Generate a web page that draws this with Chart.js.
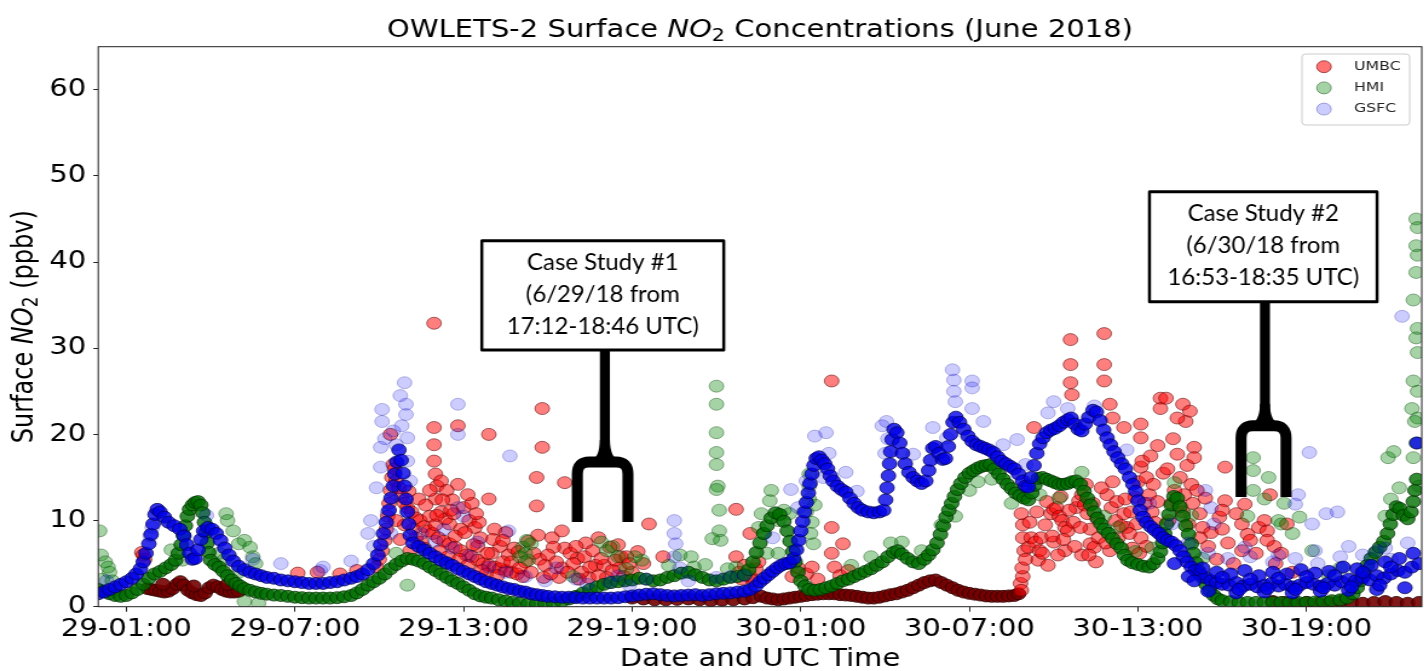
<!DOCTYPE html>
<html>
<head>
<meta charset="utf-8">
<title>OWLETS-2 Surface NO2 Concentrations</title>
<script src="https://cdn.jsdelivr.net/npm/chart.js@4.4.1/dist/chart.umd.min.js"></script>
<style>
  html, body { margin: 0; padding: 0; overflow: hidden; background: #fff; }
  /* the source figure was stretched sideways, so the whole chart is too */
  #wrap { position: relative; width: 1182px; height: 671px; transform: scaleX(1.21); transform-origin: 0 0; }
</style>
</head>
<body>
<div id="wrap"><canvas id="chart"></canvas></div>
<script>
const STRETCH = 1.21
const FONT = "DejaVu Sans"

// hours counted from 29 June 00:00 UTC
const xTickHours = [1, 7, 13, 19, 25, 31, 37, 43]
const xTickLabels = ["29-01:00", "29-07:00", "29-13:00", "29-19:00", "30-01:00", "30-07:00", "30-13:00", "30-19:00"]
const yTicks = [0, 10, 20, 30, 40, 50, 60]

// UMBC: dense low trail (overlapping points) and the looser cloud
const umbcTrail = [
  [1.75,2.1],[1.9,2.0],[2.05,1.9],[2.2,1.8],[2.35,1.7],[2.5,1.8],[2.65,2.1],[2.8,2.6],[2.92,2.9],[3.05,2.5],
  [3.2,1.9],[3.35,1.6],[3.5,1.4],[3.65,1.3],[3.8,1.6],[3.95,2.2],[4.1,2.5],[4.25,2.3],[4.4,2.0],[4.55,1.8],
  [4.7,1.7],[4.85,1.7],[5.0,1.8],[2.3,2.6],[3.4,2.4],[4.6,2.6],
  [19.0,1.0],[19.4,0.9],[19.8,0.8],[20.2,0.8],[20.6,0.85],[21.0,0.9],[21.4,0.8],[21.8,0.7],[22.2,0.75],[22.6,0.8],
  [23.0,0.9],[23.3,1.05],[23.6,1.2],[23.8,1.0],[24.0,0.9],[24.2,0.8],[24.4,0.9],[24.6,1.0],[24.8,1.1],[25.0,1.2],
  [25.2,1.3],[25.4,1.4],[25.6,1.45],[25.8,1.5],[26.0,1.5],[26.2,1.5],[26.4,1.4],[26.6,1.35],[26.8,1.3],[27.0,1.2],
  [27.2,1.1],[27.4,1.0],[27.6,1.0],[27.8,1.1],[28.0,1.25],[28.2,1.4],[28.4,1.5],[28.6,1.7],[28.8,1.9],[29.0,2.2],
  [29.2,2.5],[29.4,2.8],[29.6,3.0],[29.8,3.1],[30.0,2.8],[30.2,2.5],[30.4,2.2],[30.6,1.9],[30.8,1.7],[31.0,1.55],
  [31.2,1.45],[31.4,1.35],[31.6,1.25],[31.8,1.2],[32.0,1.2],[32.2,1.2],[32.4,1.25],[32.6,1.3],[32.75,1.5],
  [41.8,0.6],[42.2,0.5],[42.6,0.4],[43.0,0.5],[43.4,0.4],[43.8,0.5],[44.2,0.6],[44.6,0.5],[45.0,0.4],[45.4,0.5],
  [45.8,0.6],[46.2,0.5],[46.6,0.4],[47.0,0.5]
]
const umbcPoints = [
  [1.55,6.3],[1.6,6.0],[1.65,5.5],[7.1,3.9],[7.8,4.0],[8.6,3.8],[9.2,4.2],
  [9.9,4.6],[10.0,5.5],[10.1,6.5],[10.2,7.7],[10.25,9.0],[10.3,10.5],[10.35,12.0],[10.4,13.5],[10.45,15.0],
  [10.5,16.5],[10.55,16.0],[10.6,14.6],[10.7,13.8],[10.8,12.8],[10.9,12.0],[11.0,11.5],[11.15,11.0],[11.3,10.3],
  [11.45,10.0],[11.6,9.3],[11.75,8.8],[11.9,8.5],[12.1,8.0],[12.3,7.6],[12.5,7.3],[12.7,6.9],[12.9,6.5],[13.1,6.0],
  [13.3,5.8],[13.5,5.4],[13.7,5.0],[13.9,4.8],[14.1,4.6],[14.3,4.4],[14.5,4.2],[14.7,4.0],[14.9,3.8],[10.4,20.0],
  [11.95,20.8],[11.95,18.8],[11.95,16.9],[12.0,15.4],[12.05,14.0],[12.2,14.6],[12.4,13.5],[12.6,12.4],[12.8,14.2],
  [12.8,21.0],[13.0,11.5],[13.2,10.0],[13.4,9.2],[13.6,8.0],[13.3,12.0],[13.9,20.0],[13.9,12.5],[14.1,9.0],[14.3,7.0],
  [14.6,6.0],[12.2,11.0],[12.5,9.6],[12.0,12.5],[11.8,13.5],[12.9,9.0],[13.5,7.0],[14.0,6.2],[11.4,12.5],[11.2,9.0],
  [10.9,9.5],[11.5,7.5],[12.7,8.2],[13.8,3.8],[14.4,5.2],[14.8,6.8],[11.95,32.9],
  [11.1,6.5],[11.3,8.0],[11.6,6.8],[11.8,10.5],[12.0,9.5],[12.15,6.5],[12.35,10.2],[12.45,5.8],[12.65,10.8],[12.85,5.5],
  [13.05,8.6],[13.15,4.8],[13.35,7.2],[13.55,9.8],[13.65,4.2],[13.85,6.2],[14.05,7.8],[14.2,3.6],[14.5,8.6],[14.7,5.2],
  [14.95,6.4],[15.1,3.5],[15.3,7.6],[15.7,5.5],[15.85,3.4],[16.15,8.0],[16.4,3.4],[16.6,6.8],[17.05,5.6],[17.35,7.4],
  [17.45,3.4],[17.7,4.8],[18.1,3.4],[18.5,7.2],[18.55,4.5],[19.2,6.4],[12.05,10.6],[12.25,12.4],[11.65,11.8],[12.55,11.2],
  [13.15,13.0],[13.45,10.8],[10.6,10.0],[10.75,7.8],[11.05,13.4],
  [15.8,23.0],[15.8,18.5],[15.6,15.0],[15.6,11.7],[15.65,8.3],[16.6,14.4],[16.5,8.8],[17.8,8.0],[16.2,6.9],[16.8,6.2],
  [17.3,5.8],[18.2,6.9],[18.6,5.8],[15.2,5.2],[14.4,7.7],[15.0,4.5],[15.4,4.0],[15.9,4.8],[16.1,3.8],[16.5,4.5],
  [16.9,5.0],[17.2,4.0],[17.5,4.6],[17.8,3.6],[18.0,4.8],[18.3,4.2],[18.7,3.5],[19.0,4.0],[16.0,6.0],[17.0,7.0],
  [17.6,6.5],[18.4,5.4],[15.5,6.2],[16.3,5.2],[16.7,4.0],[17.1,3.2],[17.9,5.6],[18.8,5.8],[19.4,5.0],[19.6,9.6],
  [20.1,5.8],[18.9,5.0],
  [22.7,11.3],[23.2,8.5],[22.7,5.8],[22.8,4.0],[23.0,4.8],[23.2,3.5],[23.4,4.4],[23.5,5.2],[23.3,3.0],[22.9,3.2],
  [24.7,3.5],[24.9,4.5],[25.2,3.8],[25.4,4.6],[25.6,3.2],[26.1,26.2],[26.1,9.2],[26.5,7.3],[26.1,6.2],[26.2,4.6],
  [26.4,3.6],[26.7,4.2],
  [32.82,2.7],[32.85,1.9],[32.9,3.5],[32.88,4.5],
  [32.85,10.8],[32.9,9.5],[32.9,8.0],[32.95,6.5],[33.0,5.5],[33.1,6.9],[33.2,8.0],[33.3,20.8],[33.35,7.5],[33.45,5.4],
  [33.5,6.5],[33.55,8.0],[33.7,9.5],[33.9,10.8],[34.0,11.3],[34.1,11.5],[34.2,10.5],[34.3,10.0],[34.4,9.2],[34.5,8.8],
  [34.6,31.0],[34.6,28.1],[34.6,26.0],[34.65,24.6],[34.7,9.8],[34.8,11.5],[34.9,12.3],[35.0,13.0],[35.1,11.8],[35.2,10.8],
  [35.3,7.3],[35.3,9.0],[35.45,6.9],[35.6,8.0],[35.8,31.7],[35.8,28.1],[35.8,26.2],[35.9,13.0],[36.0,23.5],[36.05,11.5],
  [36.1,21.9],[36.2,10.0],[36.3,8.0],[36.5,10.8],[36.5,20.8],[36.6,9.2],[36.7,8.5],[36.9,12.7],[37.0,14.5],[37.1,16.2],
  [37.15,16.9],[37.1,21.2],[37.1,19.6],[37.3,15.0],[37.4,13.0],[37.1,8.0],[37.5,11.0],[37.7,18.7],[37.8,24.2],[37.8,23.0],
  [37.6,9.8],[37.8,8.5],[34.0,7.5],[34.4,6.5],[33.8,4.8],[35.0,6.0],[36.0,6.5],[36.8,6.8],[37.3,7.0],[35.5,5.2],
  [33.15,9.8],[33.4,11.0],[33.6,6.2],[33.75,12.2],[33.95,8.2],[34.15,6.0],[34.25,12.8],[34.35,7.8],[34.55,11.2],[34.75,7.0],
  [34.95,9.2],[35.15,14.2],[35.25,6.0],[35.4,12.0],[35.55,10.2],[35.7,13.8],[35.85,7.4],[36.1,14.5],[36.25,12.2],[36.4,9.4],
  [36.55,12.5],[36.75,11.0],[36.95,9.6],[37.05,6.2],[37.25,12.0],[37.45,17.5],[37.55,14.2],[37.7,12.2],[37.9,15.5],[38.05,16.0],
  [38.25,19.5],[38.45,11.8],[38.65,13.0],[38.75,16.4],[38.95,12.0],[39.3,9.2],[39.4,12.6],[39.6,8.6],[39.9,10.4],[40.2,7.4],
  [40.5,10.8],[40.9,8.4],[41.3,9.2],[41.85,7.0],[42.1,6.2],
  [38.0,24.2],[38.6,23.5],[38.7,21.5],[38.85,22.7],[38.4,21.9],[39.0,18.5],[39.0,17.3],[38.4,17.7],[38.5,15.0],[38.9,14.2],
  [39.1,13.5],[38.3,13.5],[38.8,9.6],[39.2,10.8],[39.2,8.0],[40.1,16.2],[40.1,12.3],[40.0,11.2],[40.0,9.0],[40.8,11.9],
  [40.7,9.6],[41.0,7.7],[41.5,10.0],[41.6,8.8],[41.6,7.7],[41.7,13.0],[42.3,9.6],[41.2,6.2],[40.7,6.5],[39.5,7.0],
  [39.8,5.5],[40.4,5.0],[41.9,5.0],[42.5,4.0],[38.2,12.0],[38.6,11.0],[38.1,10.0]
]

// HMI
const hmiTrail = [
  [0.0,2.0],[0.2,1.8],[0.4,1.5],[0.6,1.3],[0.8,1.2],[1.0,1.3],[1.2,1.6],[1.4,2.0],[1.6,2.6],[1.8,3.3],
  [2.0,3.8],[2.2,4.1],[2.4,4.5],[2.6,4.9],[2.75,5.4],[2.85,6.2],[2.95,7.2],[3.03,8.3],[3.1,9.4],[3.17,10.5],
  [3.25,11.3],[3.35,11.8],[3.45,12.1],[3.55,12.2],[3.65,11.8],[3.72,10.9],[3.78,9.8],[3.83,8.6],[3.88,7.4],[3.93,6.3],
  [4.0,5.4],[4.15,4.9],[4.3,4.6],[4.45,4.1],[4.6,3.6],[4.75,3.1],[4.9,2.7],[5.05,2.4],[5.2,2.1],[5.4,1.9],
  [5.6,1.7],[5.8,1.55],[6.0,1.45],[6.25,1.35],[6.5,1.3],[6.75,1.2],[7.0,1.1],[7.25,1.05],[7.5,1.0],[7.75,1.0],
  [8.0,1.0],[8.25,1.0],[8.5,1.05],[8.75,1.15],[9.0,1.3],[9.2,1.6],[9.4,2.0],[9.6,2.5],[9.8,2.9],[10.0,3.3],
  [10.2,3.8],[10.4,4.4],[10.6,4.9],[10.8,5.3],[11.0,5.6],[11.2,5.5],[11.4,5.3],[11.6,5.0],[11.8,4.6],[12.0,4.2],
  [12.2,3.8],[12.4,3.4],[12.6,3.0],[12.8,2.7],[13.0,2.3],[13.2,1.9],[13.4,1.5],[13.6,1.25],[13.8,1.1],[14.0,1.0],
  [14.25,0.8],[14.5,0.65],[14.75,0.5],[15.0,0.4],[15.3,0.3],[15.6,0.3],[15.9,0.35],[16.2,0.45],[16.5,0.6],[16.75,0.9],
  [17.0,1.2],[17.25,1.6],[17.5,2.0],[17.75,2.3],[18.0,2.6],[18.25,2.8],[18.5,2.9],[18.75,3.0],[19.0,3.1],[19.25,3.3],
  [19.5,3.2],[19.75,3.0],[20.0,3.1],[20.25,3.4],[20.5,3.6],[20.75,3.9],[21.0,4.0],[21.25,3.7],[21.5,3.4],[21.75,3.1],
  [22.0,3.0],[22.25,3.2],[22.5,3.4],[22.75,3.5],[23.0,3.7],[23.15,4.3],[23.3,5.2],[23.42,6.3],[23.55,7.4],[23.68,8.5],
  [23.8,9.4],[23.95,10.3],[24.1,10.9],[24.25,10.7],[24.4,9.9],[24.52,8.8],[24.62,7.6],[24.72,6.4],[24.8,5.2],[24.9,4.0],
  [25.0,3.0],[25.15,2.4],[25.3,2.0],[25.5,1.9],[25.7,2.0],[25.9,2.2],[26.1,2.4],[26.3,2.7],[26.5,3.0],[26.7,3.2],
  [26.9,3.5],[27.1,3.8],[27.3,4.1],[27.5,4.4],[27.7,4.8],[27.9,5.2],[28.1,5.8],[28.3,6.3],[28.45,6.5],[28.6,6.1],
  [28.8,5.6],[29.0,5.2],[29.2,5.0],[29.4,5.5],[29.55,6.0],[29.7,6.6],[29.85,7.4],[29.97,8.4],[30.07,9.4],[30.17,10.4],
  [30.27,11.2],[30.37,12.0],[30.47,12.8],[30.58,13.6],[30.7,14.3],[30.85,15.0],[31.0,15.5],[31.15,15.8],[31.3,16.1],[31.45,16.3],
  [31.6,16.4],[31.75,16.5],[31.9,16.0],[32.05,15.4],[32.2,14.8],[32.35,14.2],[32.5,13.7],[32.65,13.2],[32.8,12.9],[32.95,12.6],
  [33.1,12.4],[33.22,13.2],[33.33,14.1],[33.45,14.9],[33.6,15.0],[33.75,14.8],[33.9,14.6],[34.05,14.4],[34.2,14.2],[34.35,14.2],
  [34.5,14.3],[34.65,14.5],[34.8,14.6],[34.95,14.2],[35.08,13.4],[35.2,12.6],[35.32,11.8],[35.44,11.0],[35.56,10.3],[35.68,9.6],
  [35.8,9.0],[35.95,8.5],[36.1,7.9],[36.25,7.3],[36.4,6.8],[36.52,6.0],[36.64,5.4],[36.8,5.1],[37.0,4.9],[37.2,4.7],
  [37.4,4.6],[37.55,5.0],[37.7,5.6],[37.8,6.4],[37.88,7.4],[37.95,8.5],[38.02,9.6],[38.1,10.7],[38.18,11.8],[38.28,12.8],
  [38.4,12.6],[38.5,11.6],[38.6,10.5],[38.7,9.4],[38.8,8.4],[38.9,7.3],[38.98,6.2],[39.06,5.1],[39.15,4.2],[39.28,3.4],
  [39.42,2.6],[39.56,1.9],[39.7,1.3],[39.85,0.9],[40.0,0.7],[40.3,0.6],[40.6,0.5],[40.9,0.5],[41.2,0.5],[41.5,0.5],
  [41.8,0.5],[42.1,0.5],[42.4,0.5],[42.7,0.5],[43.0,0.5],[43.3,0.55],[43.6,0.6],[43.9,0.7],[44.2,0.8],[44.45,1.0],
  [44.65,1.5],[44.8,2.2],[44.92,3.0],[45.04,3.9],[45.16,4.8],[45.3,5.6],[45.45,6.3],[45.6,6.9],[45.75,7.6],[45.88,8.5],
  [45.98,9.6],[46.08,10.7],[46.2,11.6],[46.32,11.4],[46.45,10.6],[46.6,10.2],[46.72,11.0],[46.8,12.2],[46.86,13.5],[46.92,14.8]
]
const hmiPoints = [
  [0.05,8.8],[0.1,6.0],[0.25,5.2],[0.4,4.0],[0.15,3.2],[0.5,3.0],[0.35,4.6],
  [4.55,10.8],[4.6,10.0],[4.8,8.8],[5.0,7.3],[5.2,7.7],[5.4,6.9],[5.5,5.8],[5.2,0.6],[5.7,0.4],[5.0,4.0],[4.5,5.5],
  [4.3,6.2],[5.6,5.0],[2.6,6.6],[3.0,5.4],
  [15.1,6.9],[15.2,6.2],[15.3,5.4],[15.0,5.8],[15.4,7.3],[15.25,7.7],[17.9,7.5],[18.1,6.5],[18.3,7.0],[18.5,5.8],
  [16.9,3.5],[11.0,2.5],[12.4,5.0],[11.6,6.6],[10.6,6.2],[18.8,4.4],
  [19.35,5.4],[19.1,5.8],[20.7,6.0],[21.1,5.8],[21.2,4.6],[22.0,25.6],[22.0,23.5],[22.0,20.2],[22.0,17.9],[22.0,16.5],
  [22.05,14.0],[22.0,13.6],[22.1,11.2],[22.1,8.8],[21.85,7.9],[22.15,7.7],[22.7,4.6],[23.5,9.2],[23.95,13.5],[23.9,12.3],
  [23.6,10.8],[23.7,8.5],[24.2,10.0],[24.4,11.2],[24.6,10.8],[23.8,6.2],[24.2,6.2],[24.6,5.0],[25.3,15.4],[25.3,14.0],
  [25.3,12.5],[25.2,11.0],[25.45,7.3],[25.35,8.5],[25.4,9.8],[25.5,11.8],[20.3,4.8],[21.6,4.9],[22.4,4.4],
  [28.6,7.5],[29.3,6.5],[30.0,9.5],[31.3,14.5],[27.5,5.8],[28.2,7.4],[26.8,4.8],
  [30.5,10.5],[31.0,13.5],[31.8,14.8],[32.5,12.0],[33.5,13.0],[34.2,12.6],[35.0,15.6],[35.8,10.5],[36.3,9.2],[36.9,6.4],
  [37.5,6.8],[38.3,14.4],[38.9,10.6],[39.3,5.6],
  [41.1,17.3],[41.1,15.8],[41.1,13.5],[41.65,15.0],[42.0,10.0],[42.1,9.6],[42.5,8.5],[42.2,12.0],[42.75,10.4],[43.2,6.5],
  [41.5,12.5],[40.9,10.5],[44.2,4.5],[43.8,3.6],
  [46.9,45.0],[46.95,44.0],[46.9,41.9],[46.95,40.8],[46.9,38.8],[46.8,35.6],[46.95,32.3],[46.9,31.2],[46.95,29.5],[46.8,26.2],
  [46.95,25.0],[46.75,23.0],[46.95,21.9],[46.85,21.5],[46.8,17.3],[45.9,17.3],[46.1,18.0],[46.3,13.8],[46.9,19.0],[47.0,14.0],
  [45.8,10.5],[46.0,12.5]
]

// GSFC
const gsfcTrail = [
  [0.0,1.5],[0.2,1.7],[0.4,2.0],[0.6,2.3],[0.8,2.6],[1.0,2.9],[1.2,3.3],[1.35,3.8],[1.5,4.4],[1.6,5.2],
  [1.7,6.2],[1.8,7.3],[1.88,8.4],[1.95,9.6],[2.02,10.7],[2.1,11.3],[2.2,11.0],[2.35,10.4],[2.5,9.8],[2.7,9.4],
  [2.9,9.0],[3.05,8.2],[3.15,7.2],[3.25,6.2],[3.35,5.5],[3.45,5.6],[3.55,6.6],[3.65,7.8],[3.75,8.8],[3.9,9.2],
  [4.05,9.0],[4.2,8.5],[4.35,7.7],[4.5,6.8],[4.65,6.0],[4.8,5.3],[5.0,4.7],[5.2,4.3],[5.4,4.0],[5.6,3.8],
  [5.8,3.6],[6.0,3.4],[6.25,3.3],[6.5,3.1],[6.75,3.0],[7.0,2.9],[7.25,2.8],[7.5,2.7],[7.75,2.7],[8.0,2.7],
  [8.25,2.8],[8.5,2.9],[8.75,3.1],[9.0,3.3],[9.2,3.5],[9.4,3.8],[9.6,4.3],[9.8,5.0],[9.95,6.0],[10.05,7.2],
  [10.15,8.5],[10.25,9.8],[10.35,11.2],[10.42,12.6],[10.5,14.0],[10.55,15.4],[10.62,16.8],[10.7,18.2],[10.78,17.0],[10.85,15.5],
  [10.9,14.0],[10.95,12.5],[11.0,11.0],[11.05,9.6],[11.1,8.3],[11.2,7.4],[11.4,7.0],[11.6,6.6],[11.8,6.2],[12.0,5.8],
  [12.2,5.4],[12.4,5.1],[12.6,4.8],[12.8,4.4],[13.0,4.1],[13.2,3.8],[13.4,3.5],[13.6,3.2],[13.8,2.9],[14.0,2.7],
  [14.2,2.5],[14.4,2.3],[14.6,2.1],[14.8,2.0],[15.0,1.8],[15.2,1.7],[15.4,1.5],[15.6,1.4],[15.8,1.3],[16.0,1.2],
  [16.25,1.15],[16.5,1.1],[16.75,1.1],[17.0,1.05],[17.25,1.0],[17.5,1.0],[17.75,1.0],[18.0,1.0],[18.25,1.0],[18.5,1.05],
  [18.75,1.15],[19.0,1.25],[19.25,1.35],[19.5,1.45],[19.75,1.5],[20.0,1.4],[20.25,1.3],[20.5,1.25],[20.75,1.3],[21.0,1.35],
  [21.25,1.4],[21.5,1.3],[21.75,1.4],[22.0,1.5],[22.25,1.55],[22.5,1.6],[22.75,1.7],[23.0,1.8],[23.2,2.0],[23.4,2.4],
  [23.55,2.9],[23.7,3.3],[23.85,3.7],[24.0,4.1],[24.15,4.5],[24.3,4.8],[24.45,5.0],[24.6,5.1],[24.75,5.6],[24.85,6.6],
  [24.93,7.7],[25.0,8.8],[25.07,9.9],[25.13,11.0],[25.2,12.1],[25.27,13.2],[25.33,14.3],[25.4,15.4],[25.47,16.4],[25.55,17.2],
  [25.65,17.4],[25.75,17.0],[25.85,16.6],[25.95,16.0],[26.05,15.2],[26.15,14.6],[26.3,14.0],[26.45,13.6],[26.6,13.3],[26.75,12.6],
  [26.9,12.0],[27.05,11.5],[27.2,11.2],[27.4,11.0],[27.6,10.9],[27.8,11.0],[27.95,11.2],[28.02,12.4],[28.07,13.8],[28.12,15.2],
  [28.16,16.6],[28.2,18.0],[28.25,19.4],[28.32,20.6],[28.42,20.2],[28.52,19.0],[28.62,17.8],[28.72,16.6],[28.85,15.6],[29.0,15.0],
  [29.15,14.6],[29.3,14.3],[29.45,14.6],[29.55,15.8],[29.62,17.0],[29.7,18.4],[29.8,18.6],[29.92,17.8],[30.05,17.1],[30.15,17.2],
  [30.25,18.6],[30.33,20.0],[30.42,21.4],[30.52,22.0],[30.65,21.4],[30.8,20.6],[30.95,19.8],[31.1,19.2],[31.25,18.8],[31.4,18.6],
  [31.55,18.4],[31.7,18.2],[31.85,17.9],[32.0,17.4],[32.15,16.9],[32.3,16.6],[32.45,16.3],[32.6,16.0],[32.75,15.4],[32.9,14.6],
  [33.0,14.0],[33.1,13.9],[33.2,15.0],[33.3,16.4],[33.4,17.8],[33.5,18.9],[33.62,19.6],[33.75,20.2],[33.9,20.5],[34.05,20.7],
  [34.2,21.0],[34.35,21.4],[34.5,21.7],[34.62,21.9],[34.75,21.2],[34.88,20.6],[35.0,20.4],[35.12,21.2],[35.25,22.0],[35.4,22.8],
  [35.52,22.6],[35.65,21.6],[35.78,20.5],[35.9,19.6],[36.02,18.8],[36.15,18.0],[36.28,17.3],[36.42,16.6],[36.55,16.0],[36.7,15.0],
  [36.82,14.2],[36.92,13.4],[37.0,12.3],[37.08,11.2],[37.18,10.4],[37.3,9.8],[37.45,9.3],[37.6,8.9],[37.75,8.5],[37.9,8.0],
  [38.05,7.7],[38.2,7.5],[38.35,7.1],[38.5,6.5],[38.62,5.8],[38.75,5.2],[38.9,4.6],[39.05,4.2],[39.2,3.8],[39.4,3.4],
  [39.6,3.0],[39.8,2.8],[40.0,2.6],[40.25,2.5],[40.5,2.8],[40.75,2.4],[41.0,2.6],[41.25,2.3],[41.5,2.5],[41.75,2.7],
  [42.0,2.4],[42.25,2.6],[42.5,2.3],[42.75,2.5],[43.0,2.8],[43.25,2.6],[43.5,2.4],[43.75,2.7],[44.0,2.5],[44.25,2.9],
  [44.5,3.2],[44.75,3.0],[45.0,3.4],[45.25,3.1],[45.5,3.6],[45.75,3.3],[46.0,3.8],[46.25,4.2],[46.5,4.0],[46.75,4.6],
  [47.0,5.0],
  [38.3,5.0],[38.8,3.5],[39.3,4.5],[39.8,4.0],[40.3,3.8],[40.8,4.2],[41.3,3.6],[41.8,4.0],[42.3,3.8],[42.8,4.3],
  [43.3,3.9],[43.8,4.1],[44.3,4.6],[44.8,4.4],[45.3,4.8],[45.8,5.2],[46.3,5.6],[46.8,6.2],
  [39.0,3.0],[40.0,3.4],[41.0,3.2],[42.0,3.3],[43.0,3.5],[44.0,3.6],[45.0,4.0],[46.0,4.6],
  [39.5,1.8],[40.5,1.6],[41.5,1.7],[42.5,1.6],[43.5,1.8],[44.5,1.9],[45.5,2.0],[46.5,2.2],
  [40.6,2.0],[41.6,2.1],[42.6,2.0],[43.6,2.2],[44.6,2.3],[45.6,2.5],[46.93,19.0]
]
const gsfcPoints = [
  [1.85,8.2],[1.92,9.2],[3.85,10.6],[7.9,4.2],[0.3,3.0],[5.5,5.5],[6.5,5.0],[8.0,4.6],[9.0,5.3],
  [9.6,8.5],[9.7,10.0],[9.9,13.8],[10.05,16.2],[10.05,18.5],[10.1,21.5],[10.1,22.9],[10.5,20.4],[10.6,18.8],[10.9,26.0],
  [10.95,23.5],[10.95,22.3],[11.0,19.6],[11.0,16.9],[11.1,14.6],[10.7,13.8],[10.3,11.0],[10.4,8.5],[9.8,7.0],[10.2,19.5],
  [10.8,21.0],[10.75,24.5],
  [12.8,23.5],[12.8,20.0],[12.8,11.5],[13.0,10.5],[14.65,17.5],[14.6,8.8],[13.5,7.5],[12.3,9.0],
  [11.5,8.5],[12.0,7.6],[12.6,6.8],[13.2,5.9],[13.9,4.6],[14.5,4.0],[15.2,3.5],[15.9,3.0],[17.4,2.6],[18.2,2.8],
  [19.5,3.2],[21.0,3.0],[22.0,3.4],[23.0,3.6],
  [16.3,4.5],[17.0,3.2],[18.5,3.6],[18.9,2.5],
  [20.5,10.0],[20.5,8.5],[20.55,7.3],[20.5,5.8],[20.7,4.5],[22.5,3.5],[24.65,13.6],[25.5,19.8],[25.9,20.2],[26.0,17.8],
  [25.2,14.6],[25.8,15.0],[24.9,11.5],[24.0,8.0],[28.05,21.5],[28.1,19.5],[28.0,17.8],[27.9,21.0],[27.0,13.4],[26.6,15.6],
  [30.4,27.5],[30.45,26.3],[30.45,25.0],[30.5,23.8],[31.1,26.2],[31.1,25.4],[31.1,23.0],[29.7,20.8],[30.2,19.6],[32.7,19.4],
  [34.0,23.8],[34.5,23.0],[35.45,23.3],[31.5,21.5],[29.0,17.7],[33.8,22.5],[32.2,18.8],[33.0,16.5],[36.6,18.2],[37.4,12.0],
  [38.2,9.6],[38.8,7.4],[39.5,6.2],[40.2,5.6],[41.0,5.8],[41.8,5.2],[42.6,5.6],[43.4,5.0],[44.2,5.8],[45.0,6.0],
  [45.8,6.8],[46.6,7.4],
  [43.1,17.9],[42.7,13.0],[42.6,11.9],[43.2,9.6],[43.7,10.8],[46.4,33.7],[39.4,13.5],[39.6,11.5],[39.7,9.6],[40.8,6.9],
  [43.3,6.5],[42.0,6.0],[44.5,7.0],[45.5,6.5],[46.0,5.5],[44.1,11.0]
]

// boxes and brackets marking the two case studies (hours / ppbv)
const caseStudies = [
  { lines: ["Case Study #1", "(6/29/18 from", "17:12-18:46 UTC)"],
    left: 13.65, right: 22.26, top: 42.47, bottom: 29.81, stem: 18.03, legs: [17.05, 18.85], fork: 16.81, legEnd: 9.84 },
  { lines: ["Case Study #2", "(6/30/18 from", "16:53-18:35 UTC)"],
    left: 37.41, right: 45.51, top: 48.17, bottom: 35.39, stem: 41.52, legs: [40.67, 42.27], fork: 20.99, legEnd: 12.74 }
]

const legendItems = [
  { label: "UMBC", fill: "rgba(255,0,0,0.55)", edge: "rgba(110,0,0,0.6)" },
  { label: "HMI", fill: "rgba(0,128,0,0.35)", edge: "rgba(0,70,0,0.45)" },
  { label: "GSFC", fill: "rgba(0,0,255,0.2)", edge: "rgba(0,0,140,0.3)" }
]

const toPoints = (rows) => rows.map(([x, y]) => ({ x, y }))

// draw a label made of plain, italic and subscript pieces
function drawRich(ctx, parts, x, y, size) {
  const fontFor = (p) => `${p.it ? "italic " : ""}${p.sub ? Math.round(size * 0.7) : size}px "${FONT}"`
  let total = 0
  const widths = parts.map((p) => {
    ctx.font = fontFor(p)
    const w = ctx.measureText(p.t).width
    total += w
    return w
  })
  let cx = x - total / 2
  ctx.textAlign = "left"
  ctx.textBaseline = "alphabetic"
  parts.forEach((p, i) => {
    ctx.font = fontFor(p)
    ctx.fillText(p.t, cx, y + (p.sub ? size * 0.2 : 0))
    cx += widths[i]
  })
}

function drawCase(ctx, chart, c) {
  const xs = chart.scales.x
  const ys = chart.scales.y
  const X = (h) => xs.getPixelForValue(h) * STRETCH
  const Y = (v) => ys.getPixelForValue(v)

  ctx.save()
  ctx.scale(1 / STRETCH, 1) // annotations were added after the stretch
  ctx.strokeStyle = "#000"
  ctx.fillStyle = "#000"
  ctx.lineCap = "butt"

  const sx = X(c.stem)
  const fy = Y(c.fork)
  ctx.lineWidth = 10
  ctx.beginPath()
  ctx.moveTo(sx, Y(c.bottom))
  ctx.lineTo(sx, fy)
  ctx.stroke()

  // little flare where the stem meets the fork
  ctx.beginPath()
  ctx.moveTo(sx - 5, fy - 22)
  ctx.quadraticCurveTo(sx - 5, fy - 4, sx - 16, fy)
  ctx.lineTo(sx + 16, fy)
  ctx.quadraticCurveTo(sx + 5, fy - 4, sx + 5, fy - 22)
  ctx.closePath()
  ctx.fill()

  const l = X(c.legs[0])
  const r = X(c.legs[1])
  const ey = Y(c.legEnd)
  const rad = 12
  ctx.lineWidth = 11
  ctx.lineJoin = "round"
  ctx.beginPath()
  ctx.moveTo(l, ey)
  ctx.lineTo(l, fy + rad)
  ctx.quadraticCurveTo(l, fy, l + rad, fy)
  ctx.lineTo(r - rad, fy)
  ctx.quadraticCurveTo(r, fy, r, fy + rad)
  ctx.lineTo(r, ey)
  ctx.stroke()

  const bx0 = X(c.left)
  const bx1 = X(c.right)
  const by0 = Y(c.top)
  const by1 = Y(c.bottom)
  ctx.fillStyle = "#fff"
  ctx.fillRect(bx0, by0, bx1 - bx0, by1 - by0)
  ctx.lineWidth = 3
  ctx.strokeRect(bx0, by0, bx1 - bx0, by1 - by0)

  ctx.fillStyle = "#000"
  ctx.font = "24px Lato"
  ctx.textAlign = "center"
  ctx.textBaseline = "alphabetic"
  c.lines.forEach((t, i) => ctx.fillText(t, (bx0 + bx1) / 2, by0 + 29 + i * 32))
  ctx.restore()
}

const chrome = {
  id: "chrome",
  beforeDraw(chart) {
    const ctx = chart.ctx
    ctx.save()
    ctx.fillStyle = "#fff"
    ctx.fillRect(0, 0, chart.width, chart.height)
    ctx.restore()
  },
  afterDatasetsDraw(chart) {
    const { ctx, chartArea: a } = chart
    ctx.save()
    ctx.strokeStyle = "#222"
    ctx.lineWidth = 1
    ctx.strokeRect(a.left, a.top, a.right - a.left, a.bottom - a.top)
    ctx.restore()
  },
  afterDraw(chart) {
    const { ctx, chartArea: a } = chart
    const mid = (a.left + a.right) / 2
    ctx.save()
    ctx.fillStyle = "#000"
    drawRich(ctx, [{ t: "OWLETS-2 Surface " }, { t: "NO", it: true }, { t: "2", sub: true }, { t: " Concentrations (June 2018)" }], mid, 36.5, 24)
    drawRich(ctx, [{ t: "Date and UTC Time" }], mid, 666, 24)
    ctx.save()
    ctx.translate(26.5, (a.top + a.bottom) / 2)
    ctx.rotate(-Math.PI / 2)
    drawRich(ctx, [{ t: "Surface " }, { t: "NO", it: true }, { t: "2", sub: true }, { t: " (ppbv)" }], 0, 0, 24)
    ctx.restore()

    // legend, upper right
    const bw = 89, bh = 71
    const bx = a.right - 10 - bw
    const by = a.top + 7.3
    ctx.fillStyle = "rgba(255,255,255,0.85)"
    ctx.strokeStyle = "#cccccc"
    ctx.lineWidth = 1
    ctx.beginPath()
    ctx.roundRect(bx, by, bw, bh, 3)
    ctx.fill()
    ctx.stroke()
    legendItems.forEach((it, i) => {
      const cy = by + 12.7 + i * 21.2
      ctx.beginPath()
      ctx.arc(bx + 18.2, cy, 6, 0, Math.PI * 2)
      ctx.fillStyle = it.fill
      ctx.fill()
      ctx.strokeStyle = it.edge
      ctx.stroke()
      ctx.fillStyle = "#222"
      ctx.font = `13px "${FONT}"`
      ctx.textAlign = "left"
      ctx.textBaseline = "middle"
      ctx.fillText(it.label, bx + 43, cy)
    })
    ctx.restore()

    caseStudies.forEach((c) => drawCase(ctx, chart, c))
  }
}

const tickFont = { family: FONT, size: 24 }

new Chart(document.getElementById("chart").getContext("2d"), {
  type: "scatter",
  data: {
    datasets: [
      { label: "GSFC", data: toPoints(gsfcTrail), backgroundColor: "rgba(0,0,230,0.8)", borderColor: "rgba(0,0,80,0.7)", order: 0 },
      { label: "GSFC", data: toPoints(gsfcPoints), backgroundColor: "rgba(0,0,255,0.2)", borderColor: "rgba(0,0,150,0.25)", order: 1 },
      { label: "HMI", data: toPoints(hmiTrail), backgroundColor: "rgba(0,110,0,0.8)", borderColor: "rgba(0,40,0,0.7)", order: 2 },
      { label: "HMI", data: toPoints(hmiPoints), backgroundColor: "rgba(0,128,0,0.35)", borderColor: "rgba(0,70,0,0.4)", order: 3 },
      { label: "UMBC", data: toPoints(umbcPoints), backgroundColor: "rgba(255,0,0,0.5)", borderColor: "rgba(90,0,0,0.55)", order: 4 },
      { label: "UMBC", data: toPoints(umbcTrail), backgroundColor: "rgba(115,0,0,0.9)", borderColor: "rgba(45,0,0,0.8)", order: 5 }
    ]
  },
  options: {
    responsive: true,
    maintainAspectRatio: false,
    animation: false,
    clip: 0,
    layout: { padding: { top: 46.7, right: 1, left: 0, bottom: 0 } },
    elements: { point: { radius: 6, borderWidth: 1, hoverRadius: 6 } },
    plugins: {
      legend: { display: false },
      tooltip: { enabled: false }
    },
    scales: {
      x: {
        type: "linear",
        min: 0,
        max: 47.1,
        afterBuildTicks: (s) => { s.ticks = xTickHours.map((v) => ({ value: v })) },
        afterFit: (s) => { s.height = 64.3 },
        ticks: {
          callback: (v, i) => xTickLabels[i],
          color: "#000",
          font: tickFont,
          padding: 4,
          maxRotation: 0,
          autoSkip: false
        },
        grid: { drawOnChartArea: false, tickLength: 5, color: "#222", lineWidth: 1 },
        border: { display: false }
      },
      y: {
        min: 0,
        max: 65,
        afterBuildTicks: (s) => { s.ticks = yTicks.map((v) => ({ value: v })) },
        afterFit: (s) => { s.width = 81.2 },
        ticks: { color: "#000", font: tickFont, padding: 6 },
        grid: { drawOnChartArea: false, tickLength: 4, color: "#222", lineWidth: 1 },
        border: { display: false }
      }
    }
  },
  plugins: [chrome]
})
</script>
</body>
</html>
